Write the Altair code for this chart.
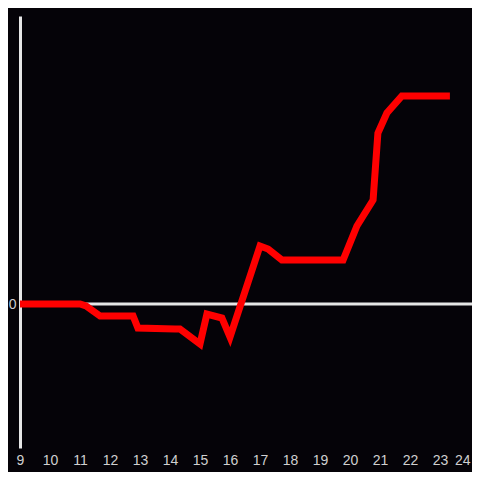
import altair as alt
import pandas as pd

hours = [9.0, 11.0, 11.2, 11.67, 12.77, 12.93, 14.17, 14.33, 15.0, 15.23, 15.73,
         16.0, 17.0, 17.27, 17.73, 19.77, 20.23, 20.77, 20.93, 21.23, 21.73, 23.33]
values = [0.0, 0.0, -0.2, -1.2, -1.2, -2.4, -2.5, -2.5, -4.0, -1.0, -1.4,
          -3.3, 5.8, 5.5, 4.4, 4.4, 7.8, 10.4, 17.1, 19.1, 20.8, 20.8]
x_ticks = list(range(9, 25))
y_ticks = [0]

df = pd.DataFrame({"hour": hours, "value": values})
zero_df = pd.DataFrame({"value": [0]})

x_scale = alt.Scale(domain=[9, 9 + 452 / 30], nice=False, zero=False)
y_scale = alt.Scale(domain=[-14.4, 28.8], nice=False, zero=False)

zero_rule = alt.Chart(zero_df).mark_rule(color="#e6e6e6", strokeWidth=3).encode(
    y=alt.Y("value:Q", scale=y_scale)
)

line = alt.Chart(df).mark_line(color="#ff0000", strokeWidth=7, strokeJoin="miter").encode(
    x=alt.X(
        "hour:Q",
        scale=x_scale,
        axis=alt.Axis(
            values=x_ticks, title=None, domain=False, ticks=False, grid=False,
            labelColor="#d0d0d0", labelFontSize=14, labelPadding=5,
            labelFont="Liberation Sans", labelFlush=False, labelOverlap=False,
            labelAlign=alt.expr("datum.value == 24 ? 'right' : 'center'"),
        ),
    ),
    y=alt.Y(
        "value:Q",
        scale=y_scale,
        axis=alt.Axis(
            values=y_ticks, title=None, domain=True, domainColor="#e6e6e6",
            domainWidth=3, ticks=False, grid=False, labelColor="#d0d0d0",
            labelFontSize=14, labelPadding=4, labelFont="Liberation Sans",
        ),
    ),
)

chart = (
    alt.layer(zero_rule, line)
    .properties(
        width=452,
        height=432,
        background="#050308",
        padding={"left": 12, "top": 8, "right": 0, "bottom": 24},
        autosize=alt.AutoSizeParams(type="none"),
    )
    .configure_view(stroke=None)
)

chart.save("out.html", embed_options={"renderer": "svg", "actions": False})
